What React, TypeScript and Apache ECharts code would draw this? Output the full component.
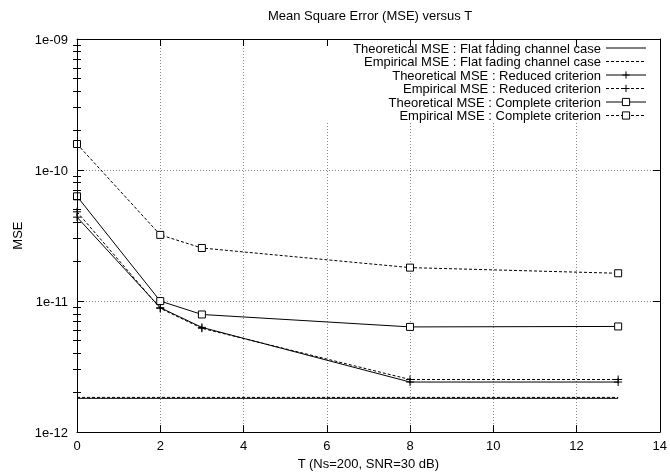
import React, { useEffect, useRef } from 'react';
import * as echarts from 'echarts';

const T = [0, 2, 3, 8, 13];
const flatTheoretical = [1.81e-12, 1.81e-12, 1.81e-12, 1.81e-12, 1.81e-12];
const flatEmpirical = [1.84e-12, 1.84e-12, 1.84e-12, 1.84e-12, 1.84e-12];
const reducedTheoretical = [4.37e-11, 8.9e-12, 6.3e-12, 2.41e-12, 2.41e-12];
const reducedEmpirical = [4.8e-11, 8.8e-12, 6.2e-12, 2.52e-12, 2.52e-12];
const completeTheoretical = [6.3e-11, 1.0e-11, 7.9e-12, 6.35e-12, 6.4e-12];
const completeEmpirical = [1.58e-10, 3.2e-11, 2.54e-11, 1.8e-11, 1.63e-11];

const seriesNames = [
  'Theoretical MSE : Flat fading channel case',
  'Empirical MSE : Flat fading channel case',
  'Theoretical MSE : Reduced criterion',
  'Empirical MSE : Reduced criterion',
  'Theoretical MSE : Complete criterion',
  'Empirical MSE : Complete criterion',
];

const titleText = 'Mean Square Error (MSE) versus T';
const xName = 'T (Ns=200, SNR=30 dB)';
const yName = 'MSE';

export default function App() {
  const ref = useRef<HTMLDivElement>(null);
  useEffect(() => {
    const chart = echarts.init(ref.current!, null, { renderer: 'svg' });
    const font = "'Liberation Sans', Arial, Helvetica, sans-serif";
    const fs = 13;
    const minorVals: number[] = [];
    for (let e = -12; e < -9; e++) for (let k = 2; k <= 9; k++) minorVals.push(e + Math.log10(k));
    const pair = (ys: number[]) => T.map((t, i) => [t, ys[i]]);
    const solid = { color: '#000', width: 1, type: 'solid' };
    const dotted = { color: '#000', width: 1, type: [3, 2] };
    const plus = 'path://M0,5L10,5M5,0L5,10';
    const mk = (name: string, data: number[], ls: any, symbol: string | null, size: number, fill: string) => ({
      type: 'line',
      name,
      data: pair(data),
      xAxisIndex: 0,
      yAxisIndex: 0,
      symbol: symbol || 'circle',
      symbolSize: size,
      showSymbol: !!symbol,
      lineStyle: ls,
      itemStyle: symbol
        ? { color: fill, borderColor: '#000', borderWidth: 1 }
        : { color: 'transparent', borderColor: 'transparent', borderWidth: 0 },
      emphasis: { disabled: true },
      z: 3,
    });
    const frameLine = { show: true, onZero: false, lineStyle: { color: '#000', width: 1 } };
    const majorTick = { show: true, inside: true, length: 7, lineStyle: { color: '#000', width: 1 } };
    const hidden = { show: false };
    const gridLine = { show: true, lineStyle: { color: '#888', width: 1, type: [1, 2] } };
    chart.setOption({
      animation: false,
      textStyle: { fontFamily: font },
      grid: { left: 77, right: 8.5, top: 39, bottom: 40.5, containLabel: false },
      graphic: [
        {
          type: 'text',
          x: 370,
          y: 15,
          style: { text: titleText, fontFamily: font, fontSize: fs, fill: '#000', align: 'center', verticalAlign: 'middle' },
        },
      ],
      legend: {
        data: seriesNames,
        orient: 'vertical',
        align: 'right',
        right: 8.5,
        top: 39.5,
        padding: [2, 15, 1, 28],
        itemWidth: 40,
        itemHeight: 9,
        itemGap: 0.5,
        backgroundColor: '#fff',
        selectedMode: false,
        lineStyle: { width: 1 },
        itemStyle: { borderWidth: 1 },
        textStyle: { fontFamily: font, fontSize: fs, color: '#000', lineHeight: 13 },
        z: 4,
      },
      xAxis: [
        {
          type: 'value', min: 0, max: 14, interval: 2, position: 'bottom', z: 10,
          axisLine: frameLine, axisTick: majorTick,
          axisLabel: { color: '#000', fontSize: fs, fontFamily: font, margin: 7 },
          splitLine: hidden,
          name: xName, nameLocation: 'middle', nameGap: 20,
          nameTextStyle: { color: '#000', fontSize: fs, fontFamily: font },
        },
        {
          type: 'value', min: 0, max: 14, interval: 2, position: 'top', z: 10,
          axisLine: frameLine, axisTick: majorTick, axisLabel: hidden, splitLine: hidden,
        },
        {
          type: 'value', min: 0, max: 14, interval: 2, position: 'bottom', z: 0,
          axisLine: hidden, axisTick: hidden, axisLabel: hidden, splitLine: gridLine,
        },
      ],
      yAxis: [
        {
          type: 'log', logBase: 10, min: 1e-12, max: 1e-9, position: 'left', z: 10,
          axisLine: frameLine, axisTick: majorTick,
          axisLabel: {
            color: '#000', fontSize: fs, fontFamily: font, margin: 9,
            formatter: (v: number) => {
              const e = Math.round(Math.log10(v));
              return '1e-' + String(-e).padStart(2, '0');
            },
          },
          splitLine: hidden,
          name: yName, nameLocation: 'middle', nameGap: 48,
          nameTextStyle: { color: '#000', fontSize: fs, fontFamily: font },
        },
        {
          type: 'log', logBase: 10, min: 1e-12, max: 1e-9, position: 'right', z: 10,
          axisLine: frameLine, axisTick: majorTick, axisLabel: hidden, splitLine: hidden,
        },
        {
          type: 'value', min: -12, max: -9, position: 'left', z: 10,
          axisLine: hidden,
          axisTick: { show: true, inside: true, length: 4, customValues: minorVals, lineStyle: { color: '#000', width: 1 } },
          axisLabel: hidden, splitLine: hidden,
        },
        {
          type: 'value', min: -12, max: -9, position: 'right', z: 10,
          axisLine: hidden,
          axisTick: { show: true, inside: true, length: 4, customValues: minorVals, lineStyle: { color: '#000', width: 1 } },
          axisLabel: hidden, splitLine: hidden,
        },
        {
          type: 'log', logBase: 10, min: 1e-12, max: 1e-9, position: 'left', z: 0,
          axisLine: hidden, axisTick: hidden, axisLabel: hidden, splitLine: gridLine,
        },
      ],
      series: [
        mk(seriesNames[0], flatTheoretical, solid, null, 0, '#000'),
        mk(seriesNames[1], flatEmpirical, dotted, null, 0, '#000'),
        mk(seriesNames[2], reducedTheoretical, solid, plus, 8, '#000'),
        mk(seriesNames[3], reducedEmpirical, dotted, plus, 8, '#000'),
        mk(seriesNames[4], completeTheoretical, solid, 'rect', 7, '#fff'),
        mk(seriesNames[5], completeEmpirical, dotted, 'rect', 7, '#fff'),
      ],
    });
    return () => chart.dispose();
  }, []);
  return <div ref={ref} style={{ position: 'fixed', left: 0, top: 0, width: 670, height: 475 }} />;
}
